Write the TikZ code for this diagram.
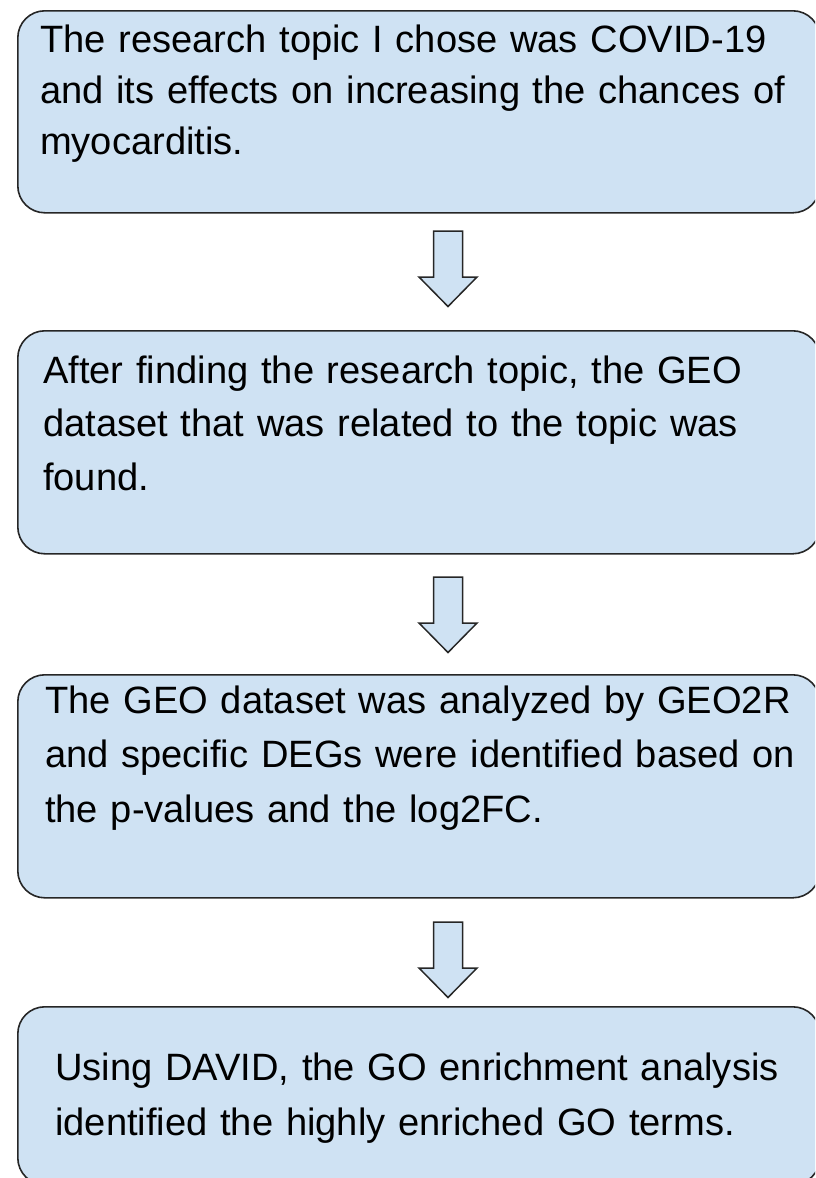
\documentclass[tikz,border=0pt]{standalone}
\usepackage{fontspec}
\setmainfont{Liberation Sans}
\definecolor{boxblue}{HTML}{CFE2F3}
\definecolor{edge}{HTML}{262626}
\begin{document}
\begin{tikzpicture}[x=1pt, y=-1pt,
  stepbox/.style={draw=edge, line width=1.6pt, fill=boxblue, rounded corners=27pt,
                  anchor=north west, inner sep=0pt, minimum width=802pt},
  steptext/.style={anchor=base west, inner sep=0pt, align=left, text width=780pt,
                   text=black},
  blockarrow/.style={draw=edge, line width=1.5pt, fill=boxblue, line join=miter}
]
\useasboundingbox (0,0) rectangle (815,1178);
\clip (0,0) rectangle (815,1178);

% Process steps
\node[stepbox, minimum height=202pt] (b1) at (17,10) {};
\node[stepbox, minimum height=223pt] (b2) at (17,330) {};
\node[stepbox, minimum height=223pt] (b3) at (17,674) {};
\node[stepbox, minimum height=178pt] (b4) at (17,1006) {};

\node[steptext, font=\fontsize{38.1}{51}\selectfont] (t1) at (40,52)
  {The research topic I chose was COVID-19\\and its effects on increasing the chances of\\myocarditis.};
\node[steptext, font=\fontsize{38.1}{53.5}\selectfont] (t2) at (43,383)
  {After finding the research topic, the GEO\\dataset that was related to the topic was\\found.};
\node[steptext, font=\fontsize{38.1}{54.5}\selectfont] (t3) at (45,713)
  {The GEO dataset was analyzed by GEO2R\\and specific DEGs were identified based on\\the p-values and the log2FC.};
\node[steptext, font=\fontsize{38.1}{55}\selectfont] (t4) at (55,1080)
  {Using DAVID, the GO enrichment analysis\\identified the highly enriched GO terms.};

% Block arrows between the steps (shaft top centres)
\coordinate (a1) at (448,231);
\coordinate (a2) at (448,577);
\coordinate (a3) at (448,922);
\foreach \a in {a1,a2,a3}{
  \draw[blockarrow] (\a) ++(-14.5,0) -- ++(29,0) -- ++(0,46) -- ++(14.5,0)
        -- ++(-29,29.5) -- ++(-29,-29.5) -- ++(14.5,0) -- cycle;
}
\end{tikzpicture}
\end{document}
